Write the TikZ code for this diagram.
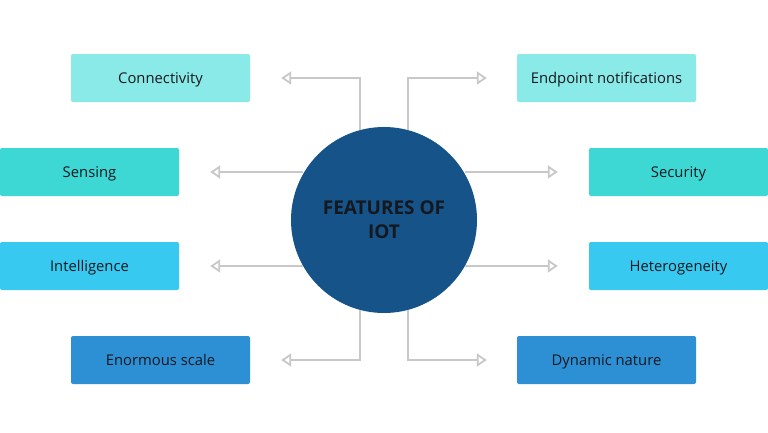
\documentclass[tikz,border=0pt]{standalone}
\usepackage{fontspec}
\setmainfont{Open Sans}
\usetikzlibrary{arrows.meta}

\definecolor{boxA}{HTML}{8AEAE8}
\definecolor{boxB}{HTML}{3ED8D4}
\definecolor{boxC}{HTML}{38C9F0}
\definecolor{boxD}{HTML}{2D8FD4}
\definecolor{hub}{HTML}{155389}
\definecolor{linegray}{HTML}{C8C8C8}
\definecolor{ink}{HTML}{16181F}

\begin{document}
\begin{tikzpicture}[x=1pt, y=-1pt,
    feature/.style={rectangle, rounded corners=2pt, minimum width=179pt, minimum height=48pt,
        inner sep=0pt, text=ink, text height=10.6pt, text depth=0pt,
        font=\fontsize{14.8}{18}\selectfont},
    arr/.style={draw=linegray, line width=1.8pt, -{Triangle[open, length=10pt, width=13pt, line width=1.8pt]}}]

      \useasboundingbox (0, 0) rectangle (768, 432);
      \fill[white] (0, 0) rectangle (768, 432);

      \node[circle, fill=hub, minimum size=186pt, inner sep=0pt, text=ink, align=center,
          font=\bfseries\fontsize{19}{24}\selectfont] (iot) at (384, 220) {FEATURES OF\\IOT};

      \node[feature, fill=boxA] (conn) at (160.5, 78) {Connectivity};
      \node[feature, fill=boxA] (endp) at (606.5, 78) {Endpoint notifications};
      \node[feature, fill=boxB] (sens) at (89.5, 172) {Sensing};
      \node[feature, fill=boxB] (secu) at (678.5, 172) {Security};
      \node[feature, fill=boxC] (intel) at (89.5, 266) {Intelligence};
      \node[feature, fill=boxC] (hetero) at (678.5, 266) {Heterogeneity};
      \node[feature, fill=boxD] (enorm) at (160.5, 360) {Enormous scale};
      \node[feature, fill=boxD] (dyn) at (606.5, 360) {Dynamic nature};

      \coordinate (conn-end) at ([xshift=31pt]conn.east);
      \coordinate (endp-end) at ([xshift=-30pt]endp.west);
      \coordinate (sens-end) at ([xshift=31pt]sens.east);
      \coordinate (secu-end) at ([xshift=-31pt]secu.west);
      \coordinate (intel-end) at ([xshift=31pt]intel.east);
      \coordinate (hetero-end) at ([xshift=-31pt]hetero.west);
      \coordinate (enorm-end) at ([xshift=31pt]enorm.east);
      \coordinate (dyn-end) at ([xshift=-30pt]dyn.west);

      \draw[arr] (iot.105) |- (conn-end);
      \draw[arr] (iot.75) |- (endp-end);
      \draw[arr] (iot.150 |- sens-end) -- (sens-end);
      \draw[arr] (iot.30 |- secu-end) -- (secu-end);
      \draw[arr] (iot.210 |- intel-end) -- (intel-end);
      \draw[arr] (iot.330 |- hetero-end) -- (hetero-end);
      \draw[arr] (iot.255) |- (enorm-end);
      \draw[arr] (iot.285) |- (dyn-end);

    \end{tikzpicture}
\end{document}
